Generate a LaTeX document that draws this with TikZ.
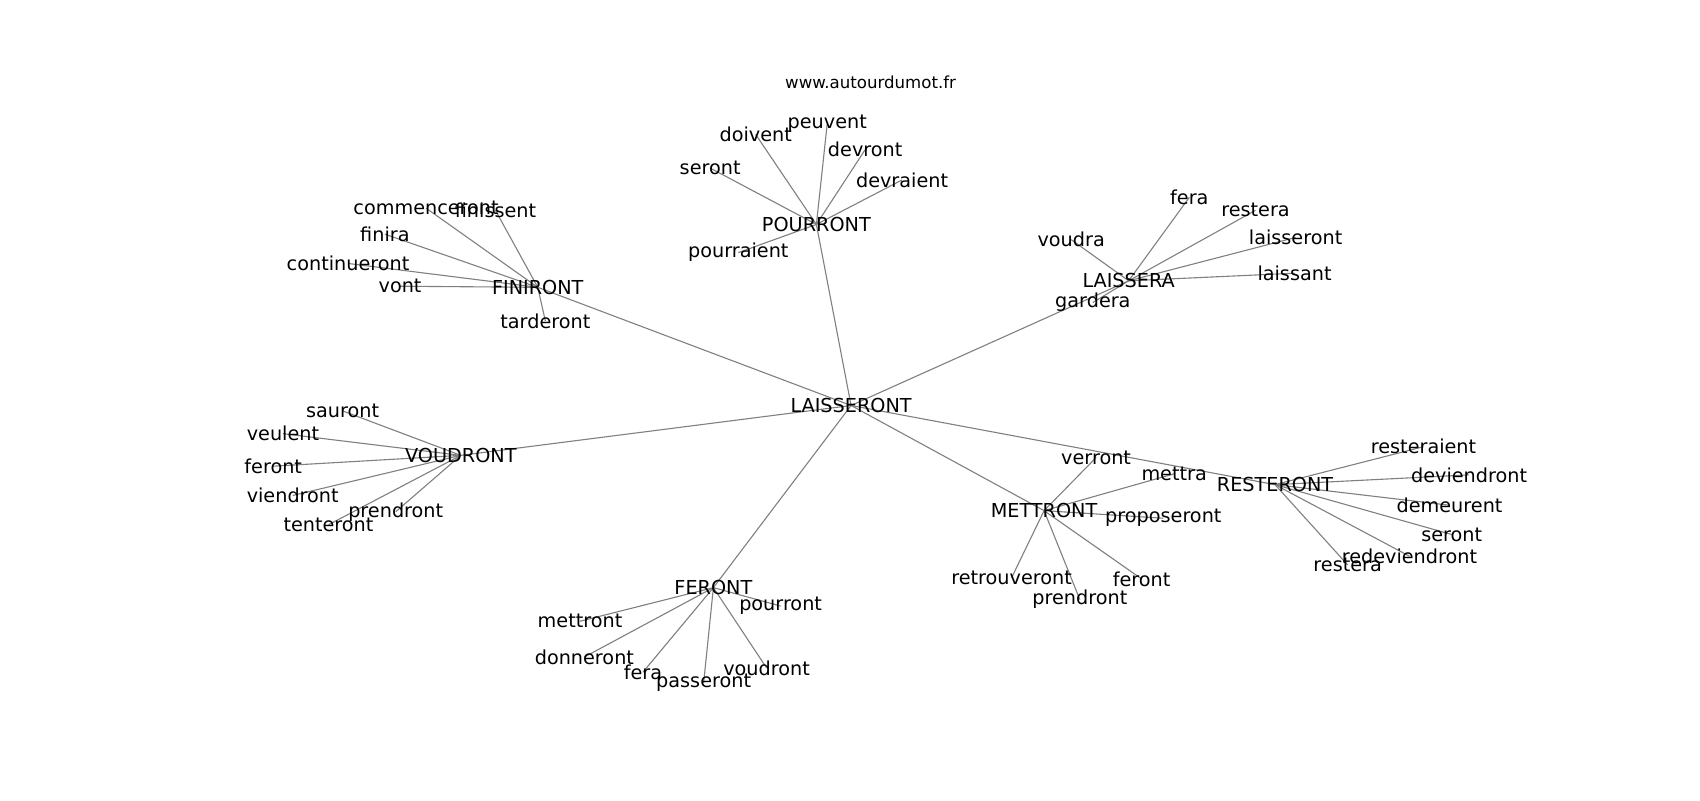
\documentclass[tikz,border=0pt]{standalone}
\usepackage{fontspec}
\setmainfont{DejaVu Sans}
\usetikzlibrary{backgrounds}
\begin{document}
\begin{tikzpicture}[x=0.027538cm,y=-0.027538cm,
  lbl/.style={inner sep=0pt,anchor=center,font=\fontsize{13.9pt}{16pt}\selectfont},
  ttl/.style={inner sep=0pt,anchor=center,font=\fontsize{12pt}{14pt}\selectfont},
  edge/.style={draw=black!50,line width=0.8pt}]
\useasboundingbox (0,0) rectangle (1568,738);
\node[ttl] (title) at (803,76) {www.autourdumot.fr};
% hubs
\node[lbl] (c) at (785,374) {LAISSERONT};
\node[lbl] (pou) at (753,207) {POURRONT};
\node[lbl] (fin) at (496,265) {FINIRONT};
\node[lbl] (lai) at (1041,259) {LAISSERA};
\node[lbl] (vou) at (425,420) {VOUDRONT};
\node[lbl] (fer) at (658,542) {FERONT};
\node[lbl] (met) at (963,471) {METTRONT};
\node[lbl] (res) at (1176,447) {RESTERONT};
% POURRONT leaves
\node[lbl] (p1) at (655,155) {seront};
\node[lbl] (p2) at (697,124) {doivent};
\node[lbl] (p3) at (763,114) {peuvent};
\node[lbl] (p4) at (798,138) {devront};
\node[lbl] (p5) at (832,166) {devraient};
\node[lbl] (p6) at (681,233) {pourraient};
% FINIRONT leaves
\node[lbl] (f1) at (393,192) {commenceront};
\node[lbl] (f2) at (457,194) {finissent};
\node[lbl] (f3) at (355,216) {finira};
\node[lbl] (f4) at (321,243) {continueront};
\node[lbl] (f5) at (369,264) {vont};
\node[lbl] (f6) at (503,296) {tarderont};
% LAISSERA leaves
\node[lbl] (l1) at (1097,182) {fera};
\node[lbl] (l2) at (1158,194) {restera};
\node[lbl] (l3) at (988,221) {voudra};
\node[lbl] (l4) at (1195,219) {laisseront};
\node[lbl] (l5) at (1194,252) {laissant};
\node[lbl] (l6) at (1008,279) {gardera};
% VOUDRONT leaves
\node[lbl] (v1) at (316,379) {sauront};
\node[lbl] (v2) at (261,400) {veulent};
\node[lbl] (v3) at (252,430) {feront};
\node[lbl] (v4) at (270,457) {viendront};
\node[lbl] (v5) at (365,472) {prendront};
\node[lbl] (v6) at (303,484) {tenteront};
% FERONT leaves
\node[lbl] (e1) at (535,573) {mettront};
\node[lbl] (e2) at (720,559) {pourront};
\node[lbl] (e3) at (539,606) {donneront};
\node[lbl] (e4) at (593,620) {fera};
\node[lbl] (e5) at (649,630) {passeront};
\node[lbl] (e6) at (707,616) {voudront};
% METTRONT leaves
\node[lbl] (m1) at (1011,422) {verront};
\node[lbl] (m2) at (1083,437) {mettra};
\node[lbl] (m3) at (1073,478) {proposeront};
\node[lbl] (m4) at (933,533) {retrouveront};
\node[lbl] (m5) at (996,553) {prendront};
\node[lbl] (m6) at (1053,534) {feront};
% RESTERONT leaves
\node[lbl] (r1) at (1313,412) {resteraient};
\node[lbl] (r2) at (1355,438) {deviendront};
\node[lbl] (r3) at (1337,466) {demeurent};
\node[lbl] (r4) at (1339,493) {seront};
\node[lbl] (r5) at (1300,513) {redeviendront};
\node[lbl] (r6) at (1243,521) {restera};
% edges (behind labels)
\begin{scope}[on background layer]
\foreach \a/\b in {c/pou,c/fin,c/lai,c/vou,c/fer,c/met,c/res,
  pou/p1,pou/p2,pou/p3,pou/p4,pou/p5,pou/p6,
  fin/f1,fin/f2,fin/f3,fin/f4,fin/f5,fin/f6,
  lai/l1,lai/l2,lai/l3,lai/l4,lai/l5,lai/l6,
  vou/v1,vou/v2,vou/v3,vou/v4,vou/v5,vou/v6,
  fer/e1,fer/e2,fer/e3,fer/e4,fer/e5,fer/e6,
  met/m1,met/m2,met/m3,met/m4,met/m5,met/m6,
  res/r1,res/r2,res/r3,res/r4,res/r5,res/r6}
  \draw[edge] (\a.center) -- (\b.center);
\end{scope}
\end{tikzpicture}
\end{document}
